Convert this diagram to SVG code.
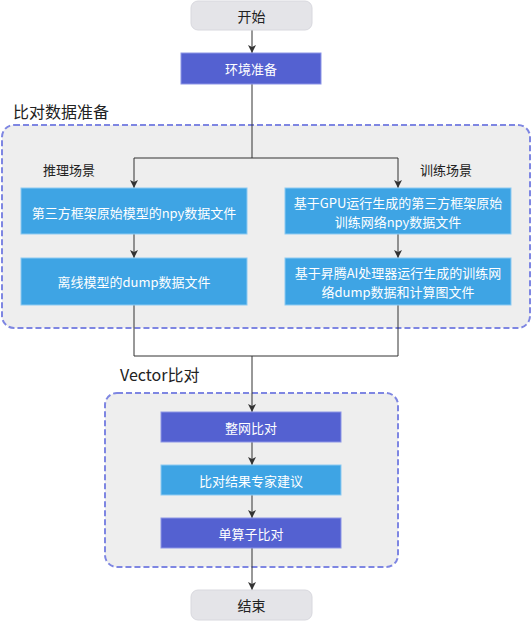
<svg xmlns="http://www.w3.org/2000/svg" width="532" height="622" viewBox="0 0 532 622">
<style>
text{font-family:"Noto Sans CJK SC","Noto Sans",sans-serif;text-anchor:middle;dominant-baseline:central}
.term{fill:#e4e4e8;stroke:#d8d8de;stroke-width:1}
.termt{font-size:14px;fill:#222}
.purple{fill:#5461d1;stroke:#8c95e6;stroke-width:1}
.blue{fill:#3ea4e4;stroke:#8ccaf2;stroke-width:1}
.wt{font-size:13px;fill:#ffffff}
.grp{fill:#eeeeee;stroke:#7e86e2;stroke-width:2;stroke-dasharray:6 3}
.gl{font-size:16px;fill:#222;text-anchor:start}
.sl{font-size:13px;fill:#222}
.conn{fill:none;stroke:#333;stroke-width:1}
</style>
<defs>
<marker id="ah" markerUnits="userSpaceOnUse" markerWidth="8" markerHeight="10" viewBox="0 0 8 10" refX="8" refY="5" orient="auto">
<path d="M0,1 L8,5 L0,9 L2,5 z" fill="#333"/>
</marker>
</defs>
<g id="group-data-prep">
<rect class="grp" x="2" y="125" width="528" height="203" rx="12"/>
<text class="gl" x="13" y="111">比对数据准备</text>
<text class="sl" x="69" y="169">推理场景</text>
<text class="sl" x="446" y="169">训练场景</text>
</g>
<g id="group-vector">
<rect class="grp" x="105" y="393" width="293" height="174" rx="12"/>
<text class="gl" x="120" y="374">Vector比对</text>
</g>
<g id="connectors">
<path class="conn" d="M252,30 V53" marker-end="url(#ah)"/>
<path class="conn" d="M252,84 V158"/>
<path class="conn" d="M134,158 H398"/>
<path class="conn" d="M134,158 V188" marker-end="url(#ah)"/>
<path class="conn" d="M398,158 V188" marker-end="url(#ah)"/>
<path class="conn" d="M134,234 V258" marker-end="url(#ah)"/>
<path class="conn" d="M398,234 V258" marker-end="url(#ah)"/>
<path class="conn" d="M134,305 V356 H398 V305"/>
<path class="conn" d="M252,356 V412" marker-end="url(#ah)"/>
<path class="conn" d="M252,442 V465" marker-end="url(#ah)"/>
<path class="conn" d="M252,495 V518" marker-end="url(#ah)"/>
<path class="conn" d="M252,548 V590" marker-end="url(#ah)"/>
</g>
<g id="start">
<rect class="term" x="191" y="1" width="121" height="29" rx="7"/>
<text class="termt" x="251.5" y="15.5">开始</text>
</g>
<g id="env-prep">
<rect class="purple" x="181" y="53" width="140" height="31"/>
<text class="wt" x="251" y="68.5">环境准备</text>
</g>
<g id="infer-npy">
<rect class="blue" x="21" y="188" width="226" height="46"/>
<text class="wt" x="134" y="212">第三方框架原始模型的npy数据文件</text>
</g>
<g id="infer-dump">
<rect class="blue" x="21" y="258" width="226" height="47"/>
<text class="wt" x="134" y="281.5">离线模型的dump数据文件</text>
</g>
<g id="train-npy">
<rect class="blue" x="285" y="188" width="226" height="46"/>
<text class="wt" x="398" y="201.5"><tspan x="398" y="201.5">基于GPU运行生成的第三方框架原始</tspan><tspan x="398" y="220.5">训练网络npy数据文件</tspan></text>
</g>
<g id="train-dump">
<rect class="blue" x="285" y="258" width="226" height="47"/>
<text class="wt" x="398" y="272"><tspan x="398" y="272">基于昇腾AI处理器运行生成的训练网</tspan><tspan x="398" y="291">络dump数据和计算图文件</tspan></text>
</g>
<g id="whole-net">
<rect class="purple" x="161" y="412" width="180" height="30"/>
<text class="wt" x="251" y="427">整网比对</text>
</g>
<g id="expert">
<rect class="blue" x="161" y="465" width="180" height="30"/>
<text class="wt" x="251" y="480">比对结果专家建议</text>
</g>
<g id="single-op">
<rect class="purple" x="161" y="518" width="180" height="30"/>
<text class="wt" x="251" y="533">单算子比对</text>
</g>
<g id="end">
<rect class="term" x="191" y="590" width="121" height="30" rx="7"/>
<text class="termt" x="251.5" y="605">结束</text>
</g>
</svg>
